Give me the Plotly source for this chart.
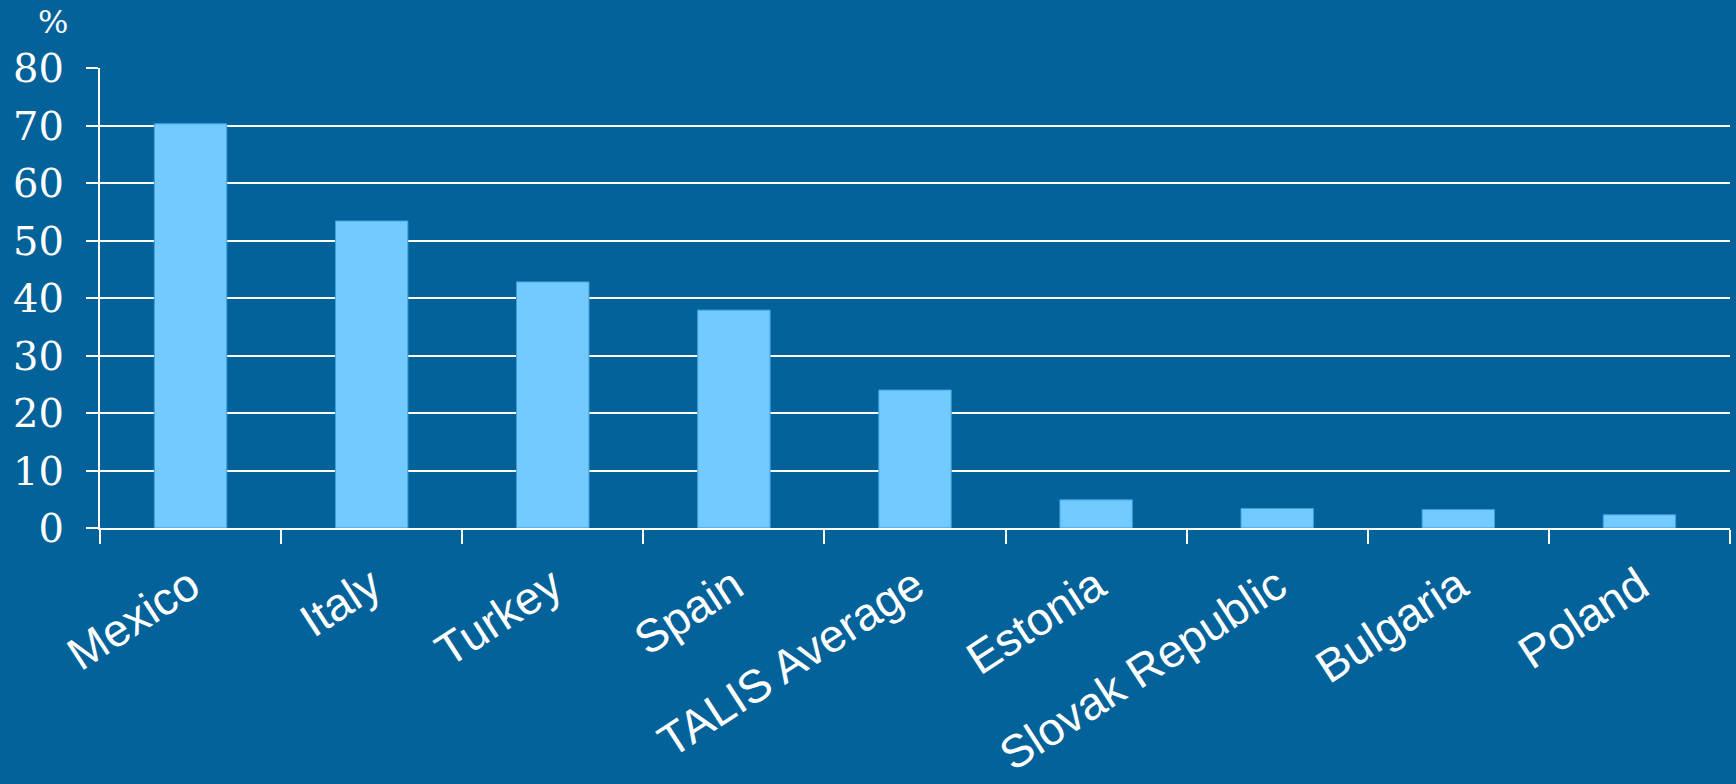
import plotly.graph_objects as go

# Share of teachers (%) by country
countries = ["Mexico", "Italy", "Turkey", "Spain", "TALIS Average",
             "Estonia", "Slovak Republic", "Bulgaria", "Poland"]
percent = [70.3, 53.4, 42.8, 37.9, 24.0, 4.9, 3.4, 3.2, 2.3]
y_ticks = [0, 10, 20, 30, 40, 50, 60, 70, 80]

BG = "#03629A"
BAR = "#72CAFF"
BAR_EDGE = "#3E9FDB"

fig = go.Figure(
    go.Bar(
        x=countries,
        y=percent,
        marker=dict(color=BAR, line=dict(color=BAR_EDGE, width=1)),
        hoverinfo="x+y",
    )
)

fig.update_layout(
    width=1736,
    height=784,
    paper_bgcolor=BG,
    plot_bgcolor=BG,
    margin=dict(l=100, r=6, t=68, b=256),
    bargap=0.6,
    showlegend=False,
)

fig.update_xaxes(
    type="category",
    automargin=False,
    tickson="boundaries",
    ticks="outside",
    ticklen=14,
    tickwidth=2,
    tickcolor="white",
    showline=True,
    linecolor="white",
    linewidth=2,
    showgrid=False,
    tickangle=-33,
    tickfont=dict(family="Liberation Sans, Arial, sans-serif", size=46, color="white"),
    ticklabelstandoff=11,
)

fig.update_yaxes(
    range=[0, 80],
    automargin=False,
    tickvals=y_ticks,
    ticks="outside",
    ticklen=12,
    tickwidth=2,
    tickcolor="white",
    showline=True,
    linecolor="white",
    linewidth=2,
    showgrid=True,
    gridcolor="white",
    gridwidth=2,
    zeroline=False,
    tickfont=dict(family="DejaVu Serif, serif", size=40, color="white"),
    ticklabelstandoff=14,
)

fig.add_annotation(
    text="%",
    xref="paper", yref="paper",
    x=(53 - 100) / 1630, y=1 + (68 - 22) / 460,
    xanchor="center", yanchor="middle",
    showarrow=False,
    font=dict(family="DejaVu Serif, serif", size=32, color="white"),
)

fig.write_html("out.html")
